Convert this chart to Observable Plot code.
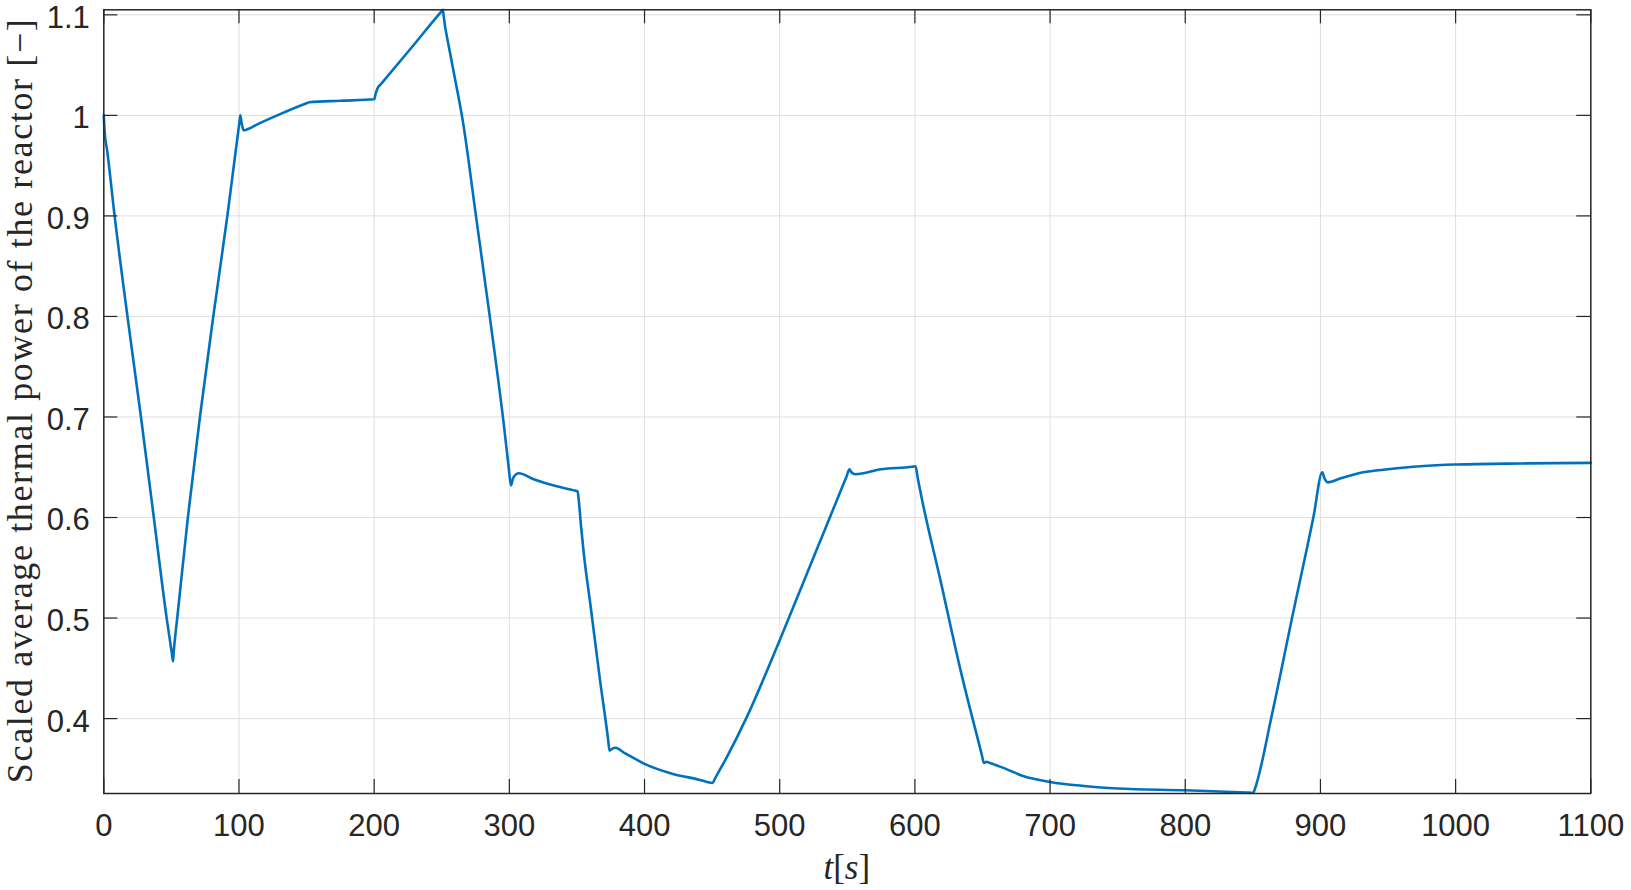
<!DOCTYPE html>
<html><head><meta charset="utf-8">
<script src="https://cdn.jsdelivr.net/npm/d3@7"></script>
<script src="https://cdn.jsdelivr.net/npm/@observablehq/plot@0.6"></script>
<style>body{margin:0;background:#fff} svg{display:block}</style>
</head><body><div id="chart"></div>
<script>
// time [s]
const time = [0, 0.6, 2.5, 8, 17.5, 27.5, 37, 46.5, 50.5, 51.2, 51.7, 52.3, 54.3, 62.2, 71.1, 81, 91.4, 100.3, 101, 102, 103.5, 105, 115, 130, 150, 152, 175, 200, 201, 202.5, 205, 228, 249.5, 250.8, 251.5, 252.5, 254, 260, 265.5, 275.3, 285.5, 296.3, 299.5, 301.2, 302.5, 305, 307, 318, 335, 348, 350.5, 351.5, 353, 355, 360, 367.2, 373, 374.1, 376, 378.5, 385, 400, 421, 441, 445, 450.4, 452, 461, 475.8, 500, 525.2, 549.5, 551.6, 553, 556, 575, 598, 600.5, 602, 605.4, 619, 633.8, 649.5, 651, 653, 655, 663.5, 680, 700, 725, 750, 800, 845, 850.4, 851.5, 864.3, 879.3, 894.9, 901.4, 903, 905.4, 915, 931.7, 950, 974, 1000, 1050, 1100];
// scaled average thermal power [-]
const power = [1.000, 0.984, 0.965, 0.900, 0.800, 0.700, 0.600, 0.500, 0.4635, 0.457, 0.466, 0.475, 0.500, 0.600, 0.700, 0.800, 0.900, 0.993, 1.000, 0.992, 0.985, 0.9855, 0.992, 1.001, 1.012, 1.013, 1.0145, 1.016, 1.021, 1.027, 1.031, 1.068, 1.103, 1.105, 1.098, 1.088, 1.077, 1.035, 0.995, 0.900, 0.800, 0.688, 0.650, 0.632, 0.638, 0.643, 0.644, 0.638, 0.631, 0.627, 0.626, 0.615, 0.592, 0.565, 0.513, 0.437, 0.380, 0.368, 0.370, 0.371, 0.366, 0.355, 0.345, 0.339, 0.3375, 0.336, 0.340, 0.362, 0.402, 0.478, 0.561, 0.641, 0.648, 0.645, 0.643, 0.648, 0.6505, 0.651, 0.640, 0.617, 0.537, 0.448, 0.364, 0.356, 0.357, 0.356, 0.352, 0.343, 0.337, 0.333, 0.3305, 0.3287, 0.3265, 0.3262, 0.330, 0.405, 0.502, 0.601, 0.645, 0.639, 0.635, 0.639, 0.645, 0.648, 0.651, 0.6527, 0.6538, 0.6544];
const xTicks = [0, 100, 200, 300, 400, 500, 600, 700, 800, 900, 1000, 1100];
const yTicks = [0.4, 0.5, 0.6, 0.7, 0.8, 0.9, 1.0, 1.1];
const yTickLabels = ["0.4", "0.5", "0.6", "0.7", "0.8", "0.9", "1", "1.1"];
const xLabelParts = [["t", true], ["[", false], ["s", true], ["]", false]];
const yLabel = "Scaled average thermal power of the reactor [\u2212]";

const data = time.map((t, i) => ({t, p: power[i]}));
const W = 1631, H = 890, mL = 103.3, mR = 40.7, mT = 9.3, mB = 97;
const innerW = W - mL - mR, innerH = H - mT - mB, tick = 14;
const ink = "#262626", gridColor = "#dfdfdf";

const chart = Plot.plot({
  width: W, height: H,
  marginLeft: mL, marginRight: mR, marginTop: mT, marginBottom: mB,
  style: {fontFamily: "'Liberation Sans', Arial, sans-serif", fontSize: "31px", color: ink, background: "#fff"},
  x: {domain: [0, 1100]},
  y: {domain: [0.3255, 1.105]},
  marks: [
    Plot.ruleX(xTicks, {stroke: gridColor, strokeWidth: 1}),
    Plot.ruleY(yTicks, {stroke: gridColor, strokeWidth: 1}),
    Plot.line(data, {x: "t", y: "p", stroke: "#0072BD", strokeWidth: 2.6, curve: "monotone-x"}),
    Plot.ruleX(xTicks, {stroke: ink, strokeWidth: 1.2, insetTop: innerH - tick}),
    Plot.ruleX(xTicks, {stroke: ink, strokeWidth: 1.2, insetBottom: innerH - tick}),
    Plot.ruleY(yTicks, {stroke: ink, strokeWidth: 1.2, insetRight: innerW - tick}),
    Plot.ruleY(yTicks, {stroke: ink, strokeWidth: 1.2, insetLeft: innerW - tick}),
    Plot.frame({stroke: ink, strokeWidth: 1.5}),
    Plot.axisX({ticks: xTicks, tickSize: 0, tickPadding: 20, label: null, tickFormat: d => String(d)}),
    Plot.axisY({ticks: yTicks, tickSize: 0, tickPadding: 14, dy: 3, label: null, tickFormat: d => yTickLabels[yTicks.indexOf(d)]})
  ]
});
document.getElementById("chart").appendChild(chart);

const svg = d3.select(chart);
const xl = svg.append("text")
  .attr("x", mL + innerW / 2).attr("y", 879)
  .attr("text-anchor", "middle").attr("fill", ink)
  .style("font-family", "'Liberation Serif', 'Times New Roman', serif").style("font-size", "35px");
xLabelParts.forEach(([s, it]) => xl.append("tspan").style("font-style", it ? "italic" : "normal").text(s));

svg.append("text")
  .attr("transform", `translate(32, ${mT + innerH / 2}) rotate(-90)`)
  .attr("text-anchor", "middle").attr("fill", ink)
  .attr("textLength", 764).attr("lengthAdjust", "spacing")
  .style("font-family", "'Liberation Serif', 'Times New Roman', serif").style("font-size", "36px")
  .text(yLabel);
</script>
</body></html>
